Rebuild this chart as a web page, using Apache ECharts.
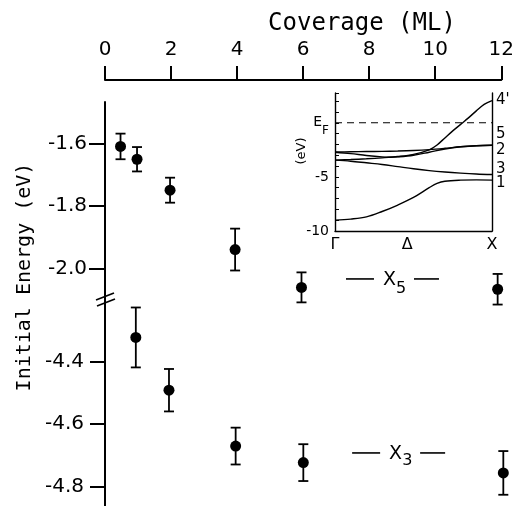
<!DOCTYPE html>
<html><head><meta charset="utf-8">
<script src="https://cdn.jsdelivr.net/npm/echarts@6/dist/echarts.min.js"></script>
<style>html,body{margin:0;padding:0;background:#fff}#c{width:517px;height:506px}</style>
</head><body><div id="c"></div>
<script>
// ---- data ----
const coverageMin = 0, coverageMax = 12, coverageStep = 2;
const upperTicks = [-1.6, -1.8, -2.0];
const lowerTicks = [-4.4, -4.6, -4.8];
const upperRange = [-2.095, -1.4678];
const lowerRange = [-4.862, -4.1956];

const upperCoverage = [0.47, 0.97, 1.97, 3.94, 5.95, 11.89];
const upperEnergy   = [-1.61, -1.651, -1.75, -1.94, -2.061, -2.067];
const upperError    = [0.041, 0.039, 0.04, 0.067, 0.048, 0.049];

const lowerCoverage = [0.92, 1.91, 3.9, 5.92, 11.89];
const lowerEnergy   = [-4.322, -4.491, -4.67, -4.723, -4.756];
const lowerError    = [0.096, 0.068, 0.059, 0.059, 0.07];

// inset band structure (Gamma = 0, X = 1), energies in eV
const insetKTicks  = [0, 0.46, 1];
const insetKLabels = ['Γ', 'Δ', 'X'];
const insetETicks  = [0, -5, -10];
const insetERange  = [-10, 2.75];
const fermiLevel   = 0;

const band1K = [0, 0.1, 0.2, 0.3, 0.4, 0.5, 0.6, 0.65, 0.7, 0.8, 0.9, 1];
const band1E = [-9.0, -8.9, -8.7, -8.2, -7.6, -6.9, -6.0, -5.6, -5.4, -5.3, -5.28, -5.3];
const band3K = [0, 0.1, 0.2, 0.3, 0.4, 0.5, 0.6, 0.7, 0.8, 0.9, 1];
const band3E = [-3.45, -3.55, -3.7, -3.85, -4.05, -4.25, -4.42, -4.55, -4.65, -4.73, -4.78];
const band2K = [0, 0.1, 0.2, 0.3, 0.4, 0.5, 0.6, 0.7, 0.8, 0.9, 1];
const band2E = [-2.7, -2.68, -2.66, -2.64, -2.61, -2.56, -2.48, -2.36, -2.22, -2.12, -2.08];
const band5K = [0, 0.1, 0.2, 0.3, 0.35, 0.4, 0.5, 0.6, 0.7, 0.8, 0.9, 1];
const band5E = [-2.72, -2.85, -3.02, -3.15, -3.18, -3.15, -3.0, -2.72, -2.42, -2.22, -2.12, -2.08];
const band4K = [0, 0.1, 0.2, 0.3, 0.4, 0.5, 0.6, 0.65, 0.7, 0.75, 0.8, 0.85, 0.9, 0.95, 1];
const band4E = [-3.45, -3.4, -3.33, -3.24, -3.12, -2.92, -2.5, -2.05, -1.4, -0.75, -0.15, 0.45, 1.1, 1.7, 2.05];

const bandLabels = ["4'", '5', '2', '3', '1'];

// annotations (coverage, energy of the dash line)
const x5Pos = [8.69, -2.034];
const x3Pos = [8.75, -4.692];

// ---- chart ----
const zip = (a, b) => a.map((v, i) => [v, b[i]]);
const errData = (xs, ys, es) => xs.map((x, i) => [x, ys[i] - es[i], ys[i] + es[i]]);

function errRender(params, api) {
  const x = api.value(0), lo = api.value(1), hi = api.value(2);
  const a = api.coord([x, lo]), b = api.coord([x, hi]);
  const w = 5;
  const st = { stroke: '#000', lineWidth: 1.8, fill: null };
  return { type: 'group', children: [
    { type: 'line', shape: { x1: a[0], y1: a[1], x2: b[0], y2: b[1] }, style: st },
    { type: 'line', shape: { x1: a[0] - w, y1: a[1], x2: a[0] + w, y2: a[1] }, style: st },
    { type: 'line', shape: { x1: b[0] - w, y1: b[1], x2: b[0] + w, y2: b[1] }, style: st }
  ]};
}

const tickFont = { color: '#000', fontFamily: 'DejaVu Sans', fontSize: 20 };
const black = { color: '#000', width: 2 };

function bandSeries(k, e, label, offY) {
  return {
    type: 'line', xAxisIndex: 2, yAxisIndex: 2, data: zip(k, e), smooth: 0.35,
    showSymbol: false, symbol: 'none', silent: true,
    lineStyle: { color: '#000', width: 1.4 },
    endLabel: { show: true, formatter: label, distance: 4, offset: [0, offY],
      color: '#000', fontFamily: 'DejaVu Sans', fontSize: 15 }
  };
}

const chart = echarts.init(document.getElementById('c'), null, { renderer: 'canvas' });
chart.setOption({
  animation: false,
  backgroundColor: '#fff',
  grid: [
    { left: 105, right: 10, top: 102, height: 196 },
    { left: 105, right: 10, top: 298, bottom: 0 },
    { left: 335, right: 25, top: 93, bottom: 275 }
  ],
  xAxis: [
    { gridIndex: 0, type: 'value', position: 'top', offset: 22, min: coverageMin, max: coverageMax,
      interval: coverageStep, axisLine: { lineStyle: black },
      axisTick: { show: true, length: 14, lineStyle: black },
      axisLabel: Object.assign({ margin: 20 }, tickFont), splitLine: { show: false } },
    { gridIndex: 1, type: 'value', min: coverageMin, max: coverageMax, show: false },
    { gridIndex: 2, type: 'value', min: 0, max: 1, position: 'bottom',
      axisLine: { onZero: false, lineStyle: { color: '#000', width: 1.4 } },
      axisTick: { show: false }, splitLine: { show: false },
      axisLabel: { customValues: insetKTicks, formatter: v => insetKLabels[insetKTicks.indexOf(v)],
        color: '#000', fontFamily: 'DejaVu Sans', fontSize: 16, margin: 6 } }
  ],
  yAxis: [
    { gridIndex: 0, type: 'value', min: upperRange[0], max: upperRange[1],
      axisLine: { show: true, lineStyle: black },
      axisTick: { show: true, length: 16, customValues: upperTicks, lineStyle: black },
      axisLabel: Object.assign({ customValues: upperTicks, formatter: v => v.toFixed(1), margin: 18 }, tickFont),
      splitLine: { show: false } },
    { gridIndex: 1, type: 'value', min: lowerRange[0], max: lowerRange[1],
      axisLine: { show: true, lineStyle: black },
      axisTick: { show: true, length: 15, customValues: lowerTicks, lineStyle: black },
      axisLabel: Object.assign({ customValues: lowerTicks, formatter: v => v.toFixed(1), margin: 21 }, tickFont),
      splitLine: { show: false } },
    { gridIndex: 2, type: 'value', min: insetERange[0], max: insetERange[1], interval: 1,
      axisLine: { show: true, onZero: false, lineStyle: { color: '#000', width: 1.4 } },
      axisTick: { show: true, inside: true, length: 4, lineStyle: { color: '#000', width: 1 } },
      axisLabel: { customValues: insetETicks, margin: 6, color: '#000', fontFamily: 'DejaVu Sans', fontSize: 14,
        formatter: v => v === 0 ? '{e|E}{f|F}' : String(v),
        rich: { e: { fontSize: 14, color: '#000', fontFamily: 'DejaVu Sans' },
                f: { fontSize: 12, color: '#000', fontFamily: 'DejaVu Sans', padding: [16, 0, 0, 0] } } },
      splitLine: { show: false } },
    { gridIndex: 2, type: 'value', position: 'right', min: insetERange[0], max: insetERange[1],
      axisLine: { show: true, onZero: false, lineStyle: { color: '#000', width: 1.4 } },
      axisTick: { show: false }, axisLabel: { show: false }, splitLine: { show: false } }
  ],
  series: [
    { type: 'custom', xAxisIndex: 0, yAxisIndex: 0, renderItem: errRender,
      data: errData(upperCoverage, upperEnergy, upperError), encode: { x: 0, y: [1, 2] }, clip: false, silent: true },
    { type: 'scatter', xAxisIndex: 0, yAxisIndex: 0, data: zip(upperCoverage, upperEnergy),
      symbolSize: 11, itemStyle: { color: '#000', opacity: 1 }, clip: false, silent: true },
    { type: 'custom', xAxisIndex: 1, yAxisIndex: 1, renderItem: errRender,
      data: errData(lowerCoverage, lowerEnergy, lowerError), encode: { x: 0, y: [1, 2] }, clip: false, silent: true },
    { type: 'scatter', xAxisIndex: 1, yAxisIndex: 1, data: zip(lowerCoverage, lowerEnergy),
      symbolSize: 11, itemStyle: { color: '#000', opacity: 1 }, clip: false, silent: true },
    { type: 'line', xAxisIndex: 2, yAxisIndex: 2, data: [[0, fermiLevel], [1, fermiLevel]],
      showSymbol: false, symbol: 'none', silent: true,
      lineStyle: { color: '#000', width: 1.2, type: [7, 5] } },
    bandSeries(band4K, band4E, bandLabels[0], 0),
    bandSeries(band5K, band5E, bandLabels[1], -11),
    bandSeries(band2K, band2E, bandLabels[2], 5),
    bandSeries(band3K, band3E, bandLabels[3], -5),
    bandSeries(band1K, band1E, bandLabels[4], 3)
  ]
});

// ---- decorations: titles, axis break, annotations ----
const p0 = chart.convertToPixel({ gridIndex: 0 }, [0, upperRange[0]]);
const g5 = chart.convertToPixel({ gridIndex: 0 }, x5Pos);
const g3 = chart.convertToPixel({ gridIndex: 1 }, x3Pos);
const lineSt = { stroke: '#000', lineWidth: 1.6 };
function annot(c, sub, subDy) {
  return [
    { type: 'line', shape: { x1: c[0] - 46, y1: c[1], x2: c[0] - 18, y2: c[1] }, style: lineSt },
    { type: 'line', shape: { x1: c[0] + 22, y1: c[1], x2: c[0] + 47, y2: c[1] }, style: lineSt },
    { type: 'text', x: c[0] + 4, y: c[1] + 1, style: { text: 'X', fill: '#000', font: '19px "DejaVu Sans"', align: 'right', verticalAlign: 'middle' } },
    { type: 'text', x: c[0] + 4, y: c[1] + subDy, style: { text: sub, fill: '#000', font: '16px "DejaVu Sans"', align: 'left', verticalAlign: 'middle' } }
  ];
}
chart.setOption({
  graphic: [
    { type: 'text', x: 362, y: 24, style: { text: 'Coverage (ML)', fill: '#000', font: '24px "DejaVu Sans Mono"', align: 'center', verticalAlign: 'middle' } },
    { type: 'text', x: 25, y: 277, rotation: Math.PI / 2, style: { text: 'Initial Energy (eV)', fill: '#000', font: '20px "DejaVu Sans Mono"', align: 'center', verticalAlign: 'middle' } },
    { type: 'text', x: 302, y: 151, rotation: Math.PI / 2, style: { text: '(eV)', fill: '#000', font: '13px "DejaVu Sans"', align: 'center', verticalAlign: 'middle' } },
    { type: 'line', shape: { x1: p0[0] - 9, y1: p0[1] + 2, x2: p0[0] + 9, y2: p0[1] - 5 }, style: { stroke: '#000', lineWidth: 1.6 } },
    { type: 'line', shape: { x1: p0[0] - 8, y1: p0[1] + 8, x2: p0[0] + 10, y2: p0[1] + 1 }, style: { stroke: '#000', lineWidth: 1.6 } }
  ].concat(annot(g5, '5', 10), annot(g3, '3', 8))
});
</script></body></html>
